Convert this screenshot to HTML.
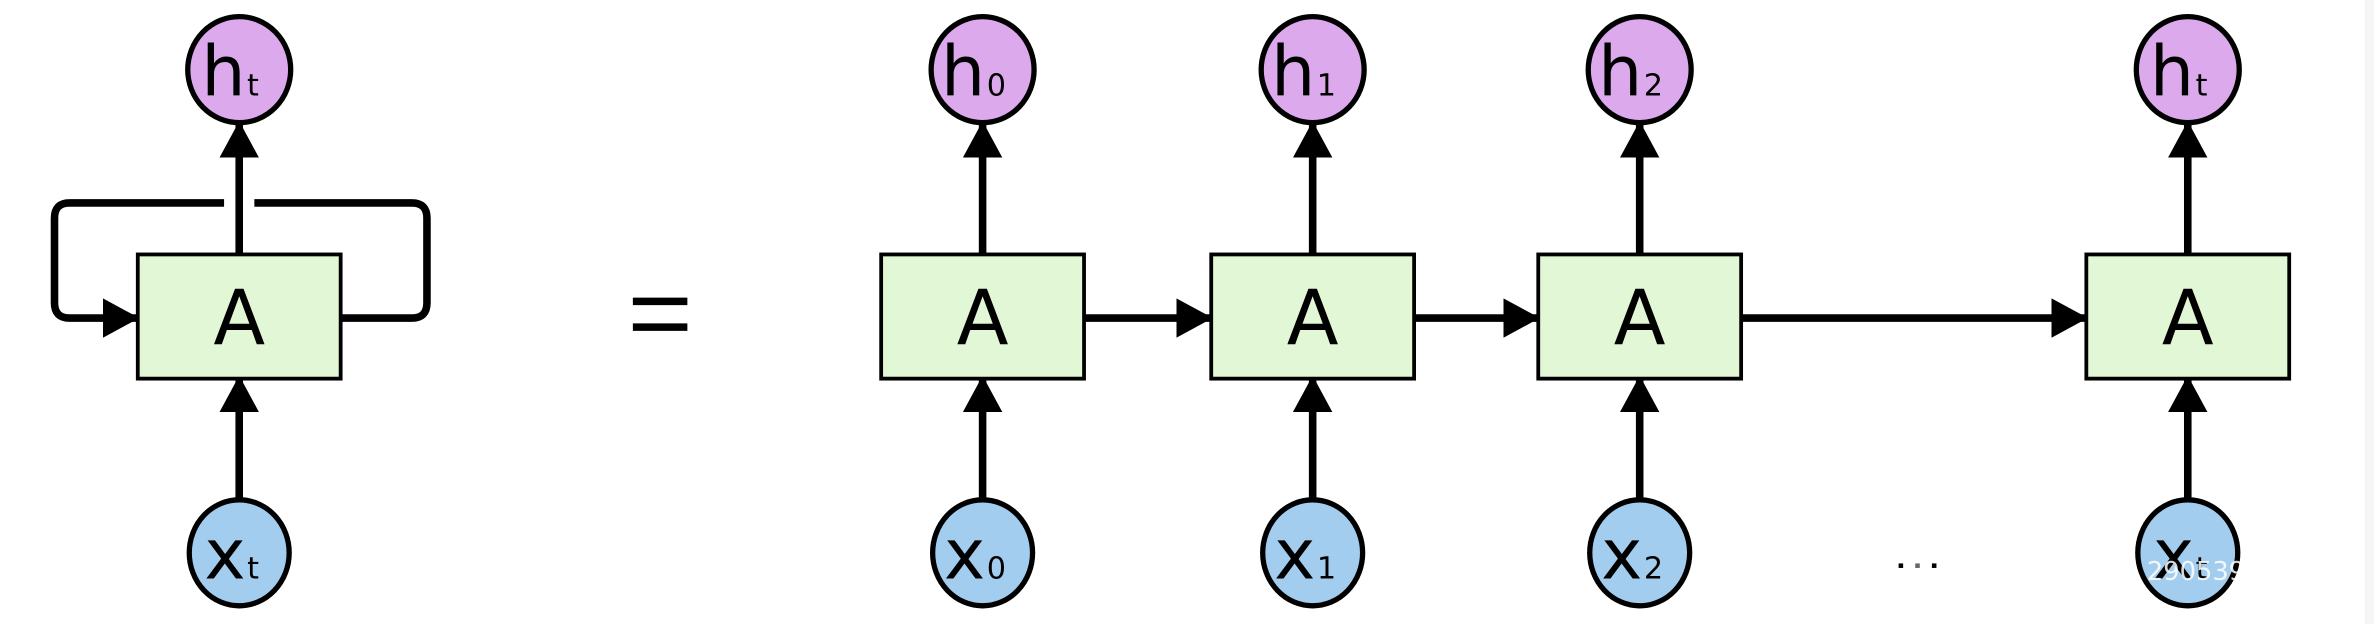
<!DOCTYPE html>
<html><head><meta charset="utf-8"><style>
html,body{margin:0;padding:0;background:#fff;overflow:hidden}
svg{display:block}
text{font-family:"DejaVu Sans","Liberation Sans",sans-serif}
</style></head><body>
<svg width="2374" height="624" viewBox="0 0 1568 412" preserveAspectRatio="none" xmlns="http://www.w3.org/2000/svg">
<rect x="1562" y="0" width="6" height="412" fill="#f4f5f7"/>
<defs>
<marker id="ah" markerWidth="24" markerHeight="26" refX="22" refY="13" orient="auto" markerUnits="userSpaceOnUse"><path d="M0,0 L24,13 L0,26 z" fill="#000"/></marker>
</defs>
<g stroke="#000" stroke-width="5">
<line x1="418" y1="199" x2="454" y2="199"/><line x1="418" y1="216" x2="454" y2="216"/>
</g>
<g fill="#000">
<rect x="1254" y="372" width="3" height="3"/><rect x="1265" y="372" width="3" height="3" fill="#666"/><rect x="1276" y="372" width="3" height="3"/>
</g>
</svg>
<script>
const cells = [
  {name:'folded', cx:158, h:'t', x:'t'},
  {name:'step-0', cx:649, h:'0', x:'0'},
  {name:'step-1', cx:867, h:'1', x:'1'},
  {name:'step-2', cx:1083, h:'2', x:'2'},
  {name:'step-t', cx:1445, h:'t', x:'t'}
];
const NS='http://www.w3.org/2000/svg';
const svg=document.querySelector('svg');
function mk(tag,attrs,parent){const e=document.createElementNS(NS,tag);for(const k in attrs)e.setAttribute(k,attrs[k]);(parent||svg).appendChild(e);return e;}
const BW=134, BT=168, BB=250, HY=46, XY=365, SW=5;
cells.forEach(c=>{
  const g=mk('g',{});
  
  
  const a1=mk('line',{x1:c.cx,y1:BT,x2:c.cx,y2:82,stroke:'#000','stroke-width':SW,'marker-end':'url(#ah)'},g);
  
  
  const a2=mk('line',{x1:c.cx,y1:330,x2:c.cx,y2:250,stroke:'#000','stroke-width':SW,'marker-end':'url(#ah)'},g);
  
  
  const b=mk('rect',{x:c.cx-BW/2,y:BT,width:BW,height:BB-BT,fill:'#e1f7d5',stroke:'#000','stroke-width':2.5},g);
  
  
  const bt=mk('text',{x:c.cx,y:227,'font-size':50,'text-anchor':'middle',fill:'#000'},g);bt.textContent='A';
  
  
  const hc=mk('ellipse',{cx:c.cx,cy:HY,rx:34,ry:35,fill:'#dcaaec',stroke:'#000','stroke-width':3.5},g);
  
  
  const ht=mk('text',{x:c.cx-6,y:HY+17,'font-size':46,'text-anchor':'middle',fill:'#000'},g);
  ht.textContent='h';
  const hs=mk('tspan',{'font-size':20,dx:1},ht);hs.textContent=c.h;
  
  
  const xc=mk('ellipse',{cx:c.cx,cy:XY,rx:33,ry:35,fill:'#a3cdee',stroke:'#000','stroke-width':3.5},g);
  
  
  const xt=mk('text',{x:c.cx-5,y:XY+17,'font-size':46,'text-anchor':'middle',fill:'#000'},g);
  xt.textContent='x';
  const xs=mk('tspan',{'font-size':20,dx:1},xt);xs.textContent=c.x;
  
  
});
for(let i=1;i<cells.length-1;i++){
  const a=mk('line',{x1:cells[i].cx+BW/2,y1:210,x2:cells[i+1].cx-BW/2-1,y2:210,stroke:'#000','stroke-width':SW,'marker-end':'url(#ah)'});
  
  
}
const c0=cells[0];
const loopR=mk('path',{d:`M${c0.cx+BW/2},210 H272 q10,0 10,-10 V144 q0,-10 -10,-10 H168`,fill:'none',stroke:'#000','stroke-width':SW});


const loopL=mk('path',{d:`M148,134 H46 q-10,0 -10,10 V200 q0,10 10,10 H${c0.cx-BW/2-1}`,fill:'none',stroke:'#000','stroke-width':SW,'marker-end':'url(#ah)'});


const wm=mk('text',{x:1418,y:383,'font-size':17,fill:'#fff','fill-opacity':0.85});
wm.textContent='290539';


</script>
</body></html>
